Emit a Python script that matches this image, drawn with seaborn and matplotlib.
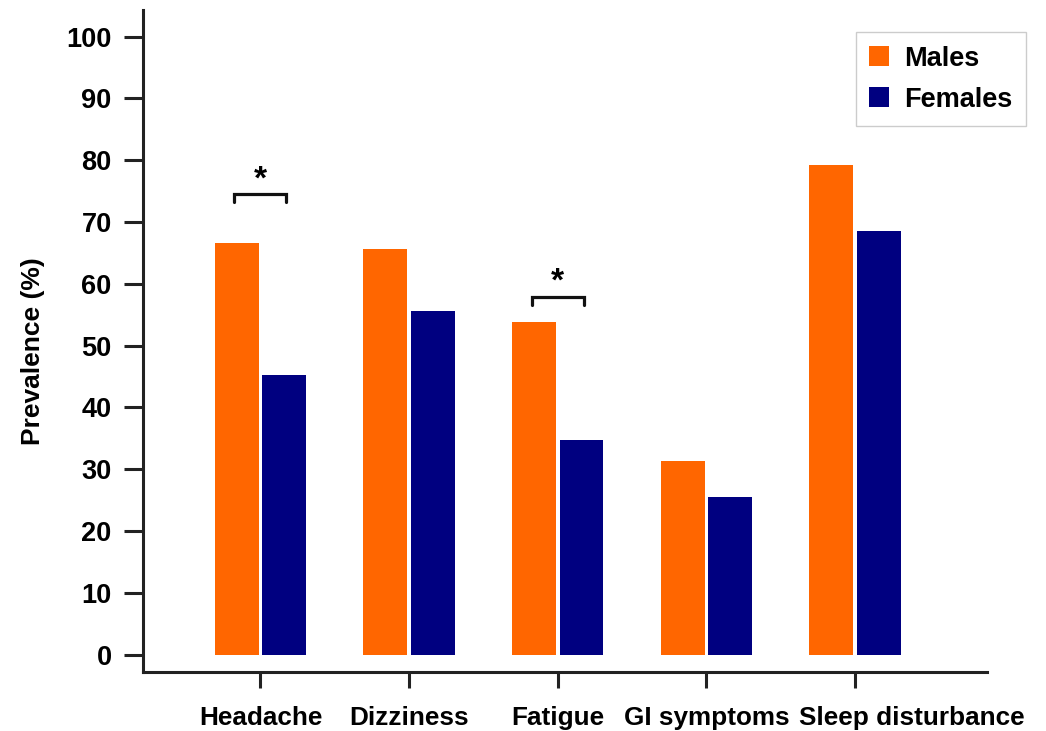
import pandas as pd
import matplotlib.pyplot as plt
import matplotlib.transforms as mtransforms
import seaborn as sns

# datos
sintomas = ["Headache", "Dizziness", "Fatigue", "GI symptoms", "Sleep disturbance"]
hombres = [66.6, 65.6, 53.9, 31.4, 79.2]
mujeres = [45.2, 55.6, 34.8, 25.5, 68.5]
grupos = ["Males", "Females"]
colores = ["#FF6600", "#000080"]

# comparaciones significativas (índice de síntoma, altura del corchete)
sig_idx = [0, 2]
sig_y = [74.5, 57.9]

df = pd.DataFrame({
    "Sintoma": sintomas * 2,
    "Prevalencia": hombres + mujeres,
    "Sexo": [grupos[0]] * len(sintomas) + [grupos[1]] * len(sintomas),
})

sns.set_style("white")
plt.rcParams["font.family"] = ["Liberation Sans", "DejaVu Sans"]
plt.rcParams["font.weight"] = "bold"
plt.rcParams["text.color"] = "black"
plt.rcParams["axes.labelcolor"] = "black"
plt.rcParams["xtick.color"] = "black"
plt.rcParams["ytick.color"] = "black"

fig = plt.figure(figsize=(10.46, 7.31), dpi=100)
ax = fig.add_axes([0.1367, 0.0807, 0.8069, 0.9056])

sns.barplot(data=df, x="Sintoma", y="Prevalencia", hue="Sexo", order=sintomas,
            hue_order=grupos, palette=colores, width=0.64, gap=0.08,
            saturation=1, linewidth=0, ax=ax)

ax.set_xlim(-0.79, 4.887)
ax.set_ylim(-2.8, 104.3)
ax.set_yticks(range(0, 101, 10))

# corchetes y asteriscos
for i, y in zip(sig_idx, sig_y):
    ax.plot([i - 0.175, i - 0.175, i + 0.175, i + 0.175], [y - 1.3, y, y, y - 1.3],
            color="#111111", lw=2.3, solid_joinstyle="miter")
    ax.text(i, y - 0.2, "*", ha="center", va="bottom", fontsize=24, fontweight="bold")

for s in ["top", "right"]:
    ax.spines[s].set_visible(False)
for s in ["left", "bottom"]:
    ax.spines[s].set_linewidth(2.2)
    ax.spines[s].set_color("#222222")

ax.tick_params(axis="y", direction="out", length=13.5, width=2.2, color="#222222",
               labelsize=19.5, pad=9)
ax.tick_params(axis="x", direction="out", length=11.5, width=2.2, color="#222222",
               labelsize=18.8, pad=13)
ax.tick_params(left=True, bottom=True)

# la última etiqueta está desplazada a la derecha en el original
ultima = ax.get_xticklabels()[-1]
ultima.set_transform(ultima.get_transform() +
                     mtransforms.ScaledTranslation(0.57, 0, fig.dpi_scale_trans))

ax.set_xlabel("")
ax.set_ylabel("Prevalence (%)", fontsize=19, fontweight="bold")
ax.yaxis.set_label_coords(-0.116, 0.485)

handles, labels = ax.get_legend_handles_labels()
ax.legend(handles, labels, loc="upper right", bbox_to_anchor=(0.981, 0.956),
          bbox_transform=fig.transFigure, borderaxespad=0,
          frameon=True, fancybox=False, edgecolor="#cccccc", framealpha=1,
          handlelength=0.75, handleheight=0.75, handletextpad=0.55,
          labelspacing=0.55, borderpad=0.5, prop={"weight": "bold", "size": 19.5})

plt.savefig("out.png", dpi=100)
plt.close()
